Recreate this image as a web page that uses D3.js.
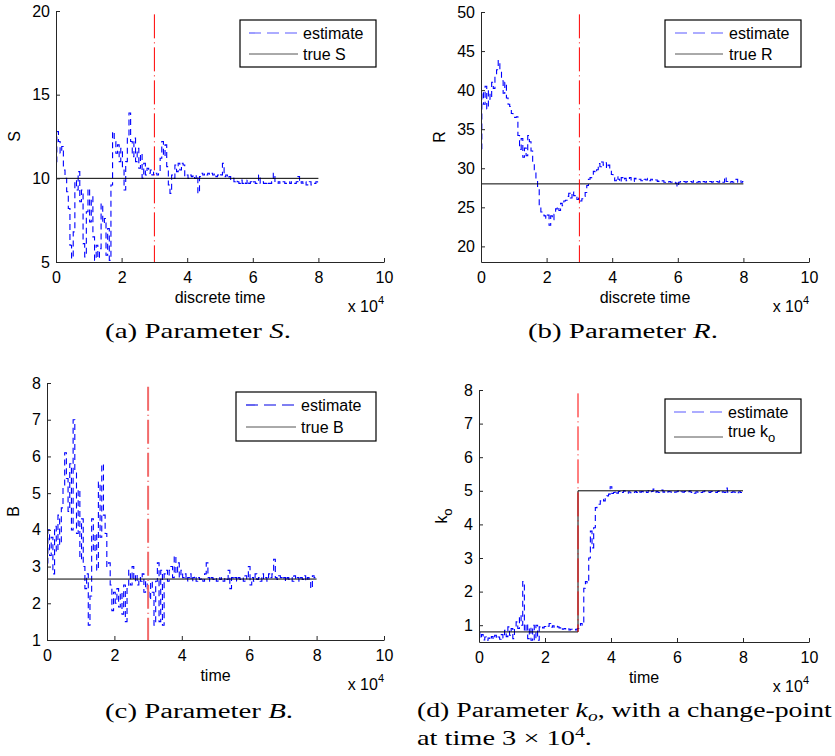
<!DOCTYPE html>
<html>
<head>
<meta charset="utf-8">
<script src="https://cdnjs.cloudflare.com/ajax/libs/d3/7.8.5/d3.min.js"></script>
<style>
  body { margin: 0; background: #ffffff; }
  svg { display: block; }
</style>
</head>
<body>
<script>

// estimates are sampled every 500 discrete time steps, from 0 to 8 x 10^4
var sampleStep = 500;

// estimate of S
var estimateS = [
  11.0, 12.8, 12.2, 11.5, 11.9, 10.5, 10.0, 9.2, 8.2, 6.0,
  5.2, 6.8, 9.9, 9.3, 10.4, 8.6, 9.3, 6.1, 5.3, 8.0,
  9.4, 7.4, 8.9, 6.5, 5.1, 6.0, 5.2, 5.8, 8.5, 7.3,
  7.6, 5.4, 7.0, 5.1, 9.6, 12.8, 12.2, 11.5, 12.0, 11.0,
  11.8, 10.7, 9.3, 11.0, 12.5, 13.9, 12.2, 11.3, 12.4, 11.0,
  11.8, 10.6, 11.5, 10.0, 10.9, 10.2, 10.6, 10.3, 10.5, 10.2,
  10.4, 10.3, 10.2, 10.4, 11.2, 12.2, 11.3, 12.0, 10.7, 9.6,
  9.1, 10.2, 10.0, 10.8, 10.4, 10.9, 10.5, 10.9, 10.8, 10.1,
  10.2, 10.0, 10.2, 10.1, 10.2, 10.0, 10.2, 9.1, 10.1, 10.3,
  10.2, 10.3, 10.2, 10.3, 10.2, 10.3, 10.2, 10.3, 10.1, 10.2,
  10.3, 10.2, 10.9, 10.1, 10.2, 10.0, 10.1, 9.9, 10.0, 9.8,
  9.9, 9.8, 9.7, 9.9, 9.7, 9.8, 9.7, 9.9, 9.7, 9.8,
  9.7, 9.8, 9.7, 9.8, 10.2, 9.7, 9.8, 9.7, 9.7, 9.8,
  9.7, 9.7, 9.8, 10.3, 9.7, 9.7, 9.8, 9.7, 9.7, 9.8,
  9.7, 9.7, 9.8, 9.7, 9.8, 9.7, 9.7, 9.8, 10.1, 9.7,
  9.8, 9.7, 9.8, 9.6, 9.7, 9.8, 9.6, 9.7, 9.7, 9.8,
  9.7
];

// estimate of R
var estimateR = [
  32.5, 39.8, 38.2, 40.5, 37.6, 39.9, 38.8, 41.0, 40.2, 41.8,
  42.6, 43.8, 42.4, 41.2, 39.6, 41.0, 39.0, 38.2, 37.9, 37.0,
  36.8, 36.5, 36.6, 34.2, 32.4, 33.8, 31.4, 32.6, 31.6, 34.2,
  33.4, 32.2, 30.8, 29.8, 28.4, 27.5, 25.0, 24.4, 24.0, 23.9,
  23.6, 24.0, 22.7, 23.9, 23.4, 24.1, 24.8, 25.1, 24.6, 25.5,
  25.2, 25.8, 25.9, 26.4, 26.8, 26.2, 27.0, 26.5, 26.6, 26.0,
  26.2, 25.8, 26.1, 26.4, 26.9, 27.8, 28.6, 28.8, 29.0, 29.6,
  29.4, 29.8, 30.6, 30.2, 30.8, 30.4, 30.7, 30.0, 30.4, 29.6,
  29.2, 28.8, 28.4, 28.9, 28.6, 28.2, 28.8, 28.5, 28.7, 28.4,
  28.6, 28.8, 28.5, 28.3, 28.7, 28.6, 28.5, 28.6, 28.4, 28.7,
  28.6, 28.5, 28.7, 28.4, 28.6, 28.5, 28.4, 28.5, 28.3, 28.4,
  28.3, 28.4, 28.2, 28.3, 28.2, 28.3, 28.2, 28.3, 28.2, 28.1,
  27.6, 28.2, 28.3, 28.2, 28.3, 28.2, 28.3, 28.2, 28.3, 28.2,
  28.4, 28.3, 28.2, 28.3, 28.2, 28.1, 28.3, 28.2, 28.3, 28.2,
  28.3, 28.2, 28.3, 28.2, 28.3, 28.2, 28.4, 28.3, 28.2, 28.9,
  28.3, 28.4, 28.2, 28.3, 28.2, 28.3, 28.6, 28.2, 28.4, 28.2,
  28.3
];

// estimate of B
var estimateB = [
  3.1, 4.0, 3.3, 3.8, 2.8, 4.1, 3.4, 4.4, 3.6, 4.6,
  5.2, 6.1, 5.4, 4.5, 5.8, 4.0, 7.0, 5.6, 3.9, 5.1,
  3.2, 4.3, 3.0, 2.4, 2.8, 1.4, 2.2, 4.3, 3.4, 3.9,
  2.9, 5.3, 3.8, 5.8, 4.4, 3.9, 3.0, 3.1, 2.5, 1.8,
  2.3, 2.0, 2.4, 1.9, 2.3, 1.7, 2.5, 1.5, 2.4, 2.9,
  2.5, 3.0, 2.6, 2.8, 2.5, 2.7, 2.6, 2.8, 2.3, 2.6,
  2.4, 2.1, 2.6, 2.3, 1.4, 2.6, 3.1, 1.5, 2.9, 1.4,
  2.8, 2.9, 2.6, 2.9, 3.0, 2.7, 3.3, 2.8, 3.1, 2.7,
  2.9, 2.7, 2.8, 2.6, 2.7, 2.8, 2.6, 2.7, 2.75, 2.6,
  2.7, 2.65, 2.7, 2.6, 2.8, 3.1, 2.7, 2.6, 2.7, 2.65,
  2.7, 2.6, 2.7, 2.65, 2.7, 2.6, 2.7, 2.65, 2.9, 2.4,
  2.7, 2.65, 2.7, 2.6, 2.7, 2.65, 2.7, 2.6, 2.75, 2.65,
  3.0, 2.5, 2.7, 2.6, 2.8, 2.65, 2.7, 2.6, 2.8, 2.65,
  2.7, 2.6, 2.8, 2.7, 2.8, 3.2, 2.7, 2.65, 2.75, 2.7,
  2.65, 2.7, 2.6, 2.7, 2.65, 2.7, 2.6, 2.75, 2.65, 2.7,
  2.6, 2.7, 2.65, 2.75, 2.6, 2.7, 2.65, 2.4, 2.75, 2.7,
  2.7
];

// estimate of k_o
var estimateKo = [
  0.78, 0.6, 0.72, 0.56, 0.65, 0.55, 0.62, 0.56, 0.66, 0.58,
  0.70, 0.6, 0.65, 0.58, 0.72, 0.62, 0.85, 0.66, 0.95, 0.7,
  0.9, 0.6, 0.92, 1.1, 0.9, 1.3, 1.0, 2.3, 0.8, 1.05,
  0.6, 0.95, 0.55, 1.0, 0.55, 1.0, 0.55, 0.95, 0.98, 0.92,
  0.96, 0.93, 0.97, 1.05, 0.94, 0.98, 0.93, 0.97, 0.95, 0.92,
  0.96, 0.88, 0.9, 0.87, 0.9, 0.86, 0.88, 0.86, 0.88, 0.86,
  0.9, 0.95, 1.05, 1.0, 2.1, 2.3, 2.25, 3.0, 3.8, 3.3,
  3.9, 4.5, 4.6, 4.6, 4.7, 4.75, 4.7, 4.8, 4.85, 4.9,
  5.12, 4.92, 4.95, 5.0, 4.93, 4.98, 5.0, 4.95, 5.0, 4.98,
  4.93, 4.97, 4.94, 4.97, 4.95, 4.98, 4.95, 5.0, 4.96, 4.98,
  4.94, 4.97, 4.95, 5.0, 4.95, 4.98, 5.05, 4.96, 4.98, 4.95,
  4.98, 5.02, 4.96, 4.98, 4.95, 4.98, 4.97, 4.95, 4.98, 4.96,
  4.97, 4.99, 4.95, 4.97, 4.96, 4.98, 4.95, 4.97, 4.99, 4.95,
  4.97, 4.93, 4.97, 4.96, 4.98, 4.95, 4.97, 4.99, 4.96, 4.97,
  4.95, 4.98, 4.96, 4.97, 4.95, 4.98, 5.0, 4.96, 4.97, 4.95,
  5.08, 4.96, 4.98, 4.95, 4.97, 4.96, 4.98, 4.94, 4.97, 4.95,
  4.93
];

// true parameter values as [time, value] pairs
var trueS = [[0, 10], [80000, 10]];
var trueR = [[0, 28], [80000, 28]];
var trueB = [[0, 2.66], [80000, 2.66]];
var trueKo = [[0, 0.8], [30000, 0.8], [30000, 5], [80000, 5]];

// change-point marker (time, top and bottom value in each panel)
var changeTime = 30000;
var changeTop = [19.8, 49.7, 7.9, 7.9];
var changeBottom = [5, 18, 1, 0.8];

// axis ticks
var xTicks = [0, 20000, 40000, 60000, 80000, 100000];
var yTicksS = [5, 10, 15, 20];
var yTicksR = [20, 25, 30, 35, 40, 45, 50];
var yTicksB = [1, 2, 3, 4, 5, 6, 7, 8];
var yTicksKo = [1, 2, 3, 4, 5, 6, 7, 8];

var width = 835;
var height = 756;
var sansFont = "'Liberation Sans', Arial, sans-serif";
var serifFont = "'Liberation Serif', 'Times New Roman', serif";

var svg = d3.select("body")
            .append("svg")
            .attr("width", width)
            .attr("height", height);

// layout of the four panels
var panels = [
  { estimate: estimateS, truth: trueS, yDomain: [5, 20], yTicks: yTicksS,
    left: 56, right: 384, top: 11, bottom: 262, yLabel: "S", yLabelX: 20,
    xLabel: "discrete time", trueName: "S",
    legend: { x: 240, y: 20, w: 136, h: 47, row1: 33, row2: 54, base1: 39, base2: 60, lx: 249, lx2: 298, tx: 303 },
    changeColor: "#ff0000", changeWidth: 1, legendBlue: "#5b5bff" },
  { estimate: estimateR, truth: trueR, yDomain: [18, 50], yTicks: yTicksR,
    left: 481, right: 809, top: 12, bottom: 262, yLabel: "R", yLabelX: 445,
    xLabel: "discrete time", trueName: "R",
    legend: { x: 665, y: 20, w: 136, h: 47, row1: 33, row2: 54, base1: 39, base2: 60, lx: 675, lx2: 723, tx: 729 },
    changeColor: "#ff0000", changeWidth: 1, legendBlue: "#5b5bff" },
  { estimate: estimateB, truth: trueB, yDomain: [1, 8], yTicks: yTicksB,
    left: 47, right: 384, top: 383, bottom: 640, yLabel: "B", yLabelX: 19,
    xLabel: "time", trueName: "B",
    legend: { x: 236, y: 392, w: 140, h: 49, row1: 405, row2: 427, base1: 411, base2: 433, lx: 246, lx2: 296, tx: 301 },
    changeColor: "#f26b6b", changeWidth: 2, legendBlue: "#0000e6" },
  { estimate: estimateKo, truth: trueKo, yDomain: [0.5, 8], yTicks: yTicksKo,
    left: 479, right: 809, top: 390, bottom: 642, yLabel: "k", yLabelX: 447,
    xLabel: "time", trueName: "k",
    legend: { x: 665, y: 399, w: 136, h: 54, row1: 412, row2: 437, base1: 418, base2: 437, lx: 674, lx2: 723, tx: 728 },
    changeColor: "#ff0000", changeWidth: 1, legendBlue: "#5b5bff", subscript: "o" }
];

panels.forEach(function(p, i) {
  drawPanel(p, i);
});

drawCaptions();

// sans-serif label text, as MATLAB draws it
function sansText(sel) {
  return sel.style("font-family", sansFont)
            .style("font-size", "16px")
            .style("fill", "#000000");
}

function drawPanel(p, i) {

  var xScale = d3.scaleLinear()
                 .domain([0, 100000])
                 .range([p.left, p.right]);

  var yScale = d3.scaleLinear()
                 .domain(p.yDomain)
                 .range([p.bottom, p.top]);

  // dashed blue estimate, drawn as a staircase like the sampled original
  var estimateLine = d3.line()
                       .curve(d3.curveStep)
                       .x(function(d, j) { return xScale(j * sampleStep); })
                       .y(function(d) { return yScale(d); });

  svg.append("path")
     .datum(p.estimate)
     .attr("d", estimateLine)
     .attr("fill", "none")
     .attr("stroke", "#0000ff")
     .attr("stroke-width", 1.1)
     .attr("stroke-dasharray", "6,4");

  // solid black true value
  var trueLine = d3.line()
                   .x(function(d) { return xScale(d[0]); })
                   .y(function(d) { return yScale(d[1]); });

  svg.append("path")
     .datum(p.truth)
     .attr("d", trueLine)
     .attr("fill", "none")
     .attr("stroke", "#000000")
     .attr("stroke-width", 1);

  // red dash-dot change-point marker
  svg.append("line")
     .attr("x1", xScale(changeTime))
     .attr("x2", xScale(changeTime))
     .attr("y1", yScale(changeTop[i]))
     .attr("y2", yScale(changeBottom[i]))
     .attr("stroke", p.changeColor)
     .attr("stroke-width", p.changeWidth)
     .attr("stroke-dasharray", "24,4,1,4");

  // axes, ticks pointing inwards
  var xAxis = d3.axisBottom(xScale)
                .tickValues(xTicks)
                .tickFormat(function(d) { return d / 10000; })
                .tickSizeInner(-4)
                .tickSizeOuter(0)
                .tickPadding(9.5);

  var yAxis = d3.axisLeft(yScale)
                .tickValues(p.yTicks)
                .tickFormat(d3.format("d"))
                .tickSizeInner(-4)
                .tickSizeOuter(0)
                .tickPadding(6);

  var gx = svg.append("g")
              .attr("transform", "translate(0," + p.bottom + ")")
              .call(xAxis);

  var gy = svg.append("g")
              .attr("transform", "translate(" + p.left + ",0)")
              .call(yAxis);

  [gx, gy].forEach(function(g) {
    g.selectAll("path, line").attr("stroke", "#262626");
    sansText(g.selectAll("text"));
  });

  // x-axis title and the x 10^4 multiplier
  sansText(svg.append("text"))
     .attr("x", (p.left + p.right) / 2)
     .attr("y", p.bottom + 41)
     .attr("text-anchor", "middle")
     .text(p.xLabel);

  var mult = sansText(svg.append("text"))
                .attr("x", p.right)
                .attr("y", p.bottom + 50)
                .attr("text-anchor", "end");
  mult.append("tspan").text("x 10");
  mult.append("tspan").attr("dy", -8).style("font-size", "11px").text("4");

  // y-axis title
  var yTitle = sansText(svg.append("text"))
                  .attr("text-anchor", "middle")
                  .attr("transform", "translate(" + p.yLabelX + "," + ((p.top + p.bottom) / 2) + ") rotate(-90)");
  yTitle.append("tspan").text(p.yLabel);
  if (p.subscript) {
    yTitle.append("tspan").attr("dy", 5).style("font-size", "13px").text(p.subscript);
  }

  drawLegend(p);
}

function drawLegend(p) {
  var L = p.legend;

  svg.append("rect")
     .attr("x", L.x)
     .attr("y", L.y)
     .attr("width", L.w)
     .attr("height", L.h)
     .attr("fill", "#ffffff")
     .attr("stroke", "#000000")
     .attr("stroke-width", 1.2);

  svg.append("line")
     .attr("x1", L.lx).attr("x2", L.lx2)
     .attr("y1", L.row1).attr("y2", L.row1)
     .attr("stroke", p.legendBlue)
     .attr("stroke-width", 1.2)
     .attr("stroke-dasharray", "12,6");

  svg.append("line")
     .attr("x1", L.lx).attr("x2", L.lx2)
     .attr("y1", L.row2).attr("y2", L.row2)
     .attr("stroke", "#555555")
     .attr("stroke-width", 1);

  sansText(svg.append("text"))
     .attr("x", L.tx)
     .attr("y", L.base1)
     .text("estimate");

  var t = sansText(svg.append("text"))
             .attr("x", L.tx)
             .attr("y", L.base2);
  t.append("tspan").text("true " + p.trueName);
  if (p.subscript) {
    t.append("tspan").attr("dy", 5).style("font-size", "13px").text(p.subscript);
  }
}

// serif captions, stretched to the width they take in the figure
function drawCaptions() {
  var captions = [
    { x: 105, y: 338, w: 186, parts: [["(a) Parameter ", ""], ["S", "italic"], [".", ""]] },
    { x: 528, y: 338, w: 190, parts: [["(b) Parameter ", ""], ["R", "italic"], [".", ""]] },
    { x: 105, y: 718, w: 188, parts: [["(c) Parameter ", ""], ["B", "italic"], [".", ""]] },
    { x: 417, y: 717, w: 415, parts: [["(d) Parameter ", ""], ["k", "italic"], ["o", "sub"], [", with a change-point", "back"]] },
    { x: 417, y: 745, w: 175, parts: [["at time 3 \u00d7 10", ""], ["4", "sup"], [".", "down"]] }
  ];

  captions.forEach(function(c) {
    var g = svg.append("g")
               .attr("transform", "translate(" + c.x + "," + c.y + ")");
    var text = g.append("text")
                .style("font-family", serifFont)
                .style("font-size", "20px")
                .style("fill", "#000000");
    c.parts.forEach(function(part) {
      var span = text.append("tspan").text(part[0]);
      if (part[1] == "italic") {
        span.style("font-style", "italic");
      } else if (part[1] == "sub") {
        span.style("font-style", "italic").style("font-size", "14px").attr("dy", 4);
      } else if (part[1] == "back") {
        span.attr("dy", -4);
      } else if (part[1] == "sup") {
        span.style("font-size", "14px").attr("dy", -8);
      } else if (part[1] == "down") {
        span.attr("dy", 8);
      }
    });
    var natural = text.node().getComputedTextLength();
    text.attr("transform", "scale(" + (c.w / natural) + ",1)");
  });
}

</script>
</body>
</html>
